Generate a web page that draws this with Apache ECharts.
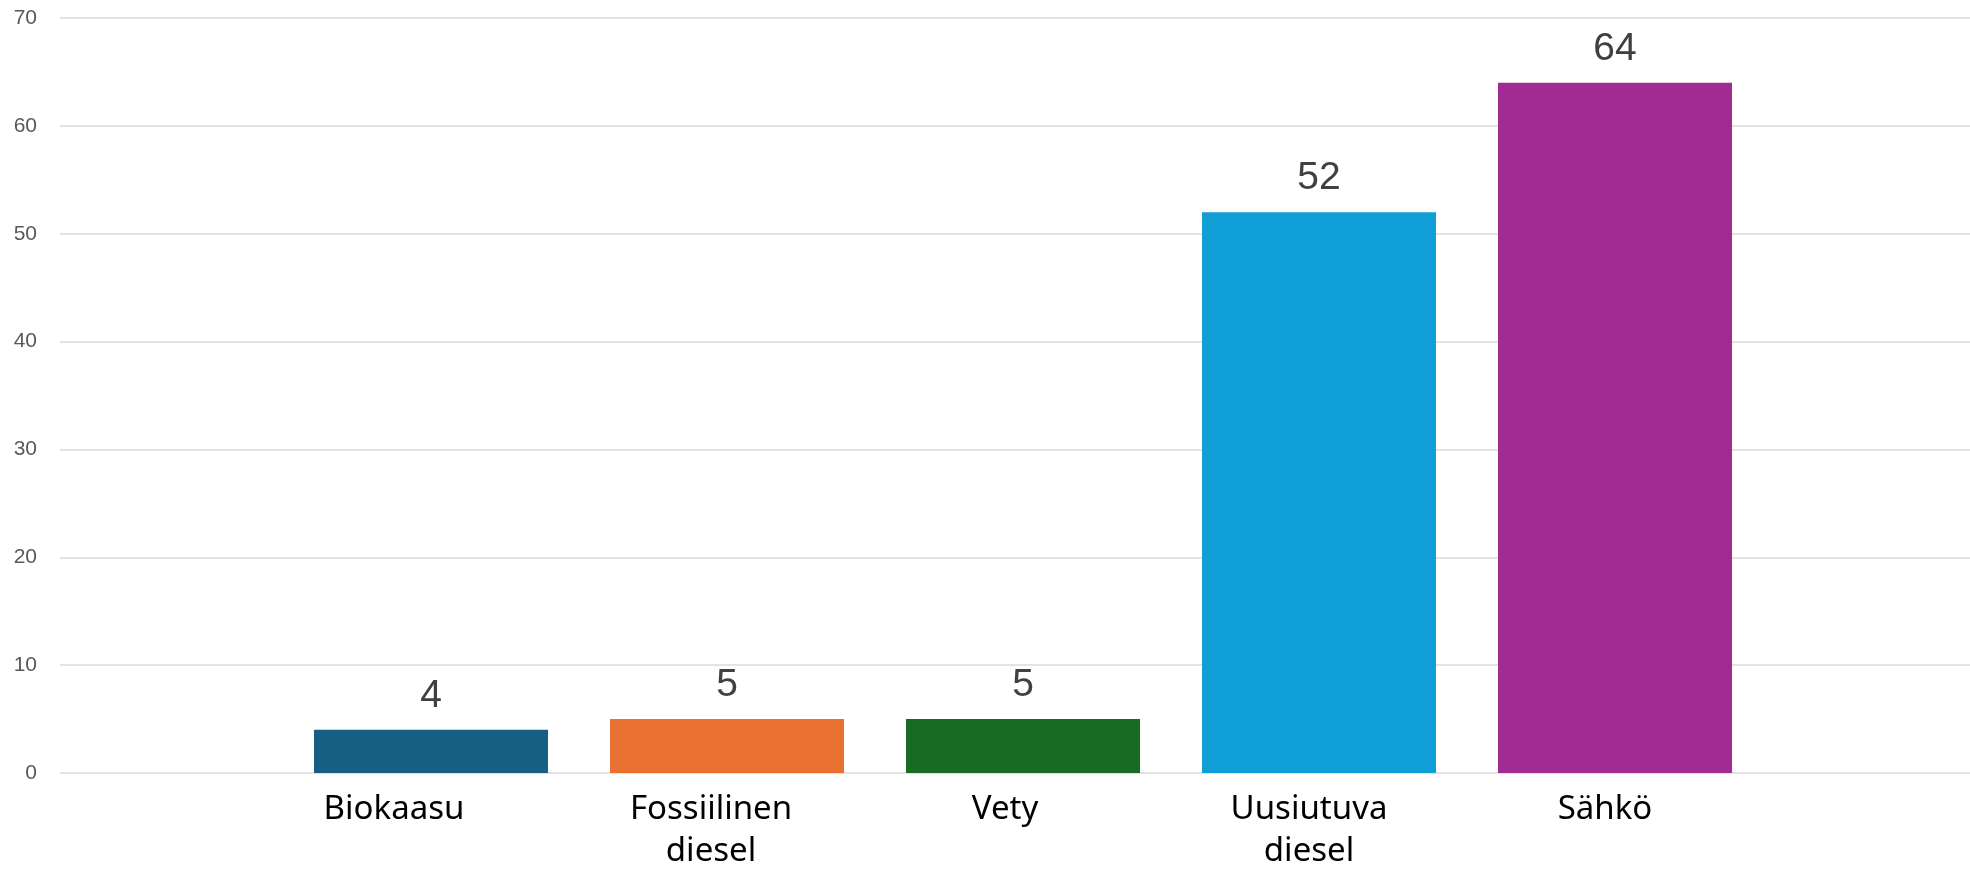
<!DOCTYPE html>
<html>
<head>
<meta charset="utf-8">
<script src="https://cdn.jsdelivr.net/npm/echarts@6/dist/echarts.min.js"></script>
<style>
html,body{margin:0;padding:0;background:#fff;}
#c{width:1970px;height:870px;}
</style>
</head>
<body>
<div id="c"></div>
<script>
const categories = ['Biokaasu', 'Fossiilinen\ndiesel', 'Vety', 'Uusiutuva\ndiesel', 'Sähkö'];
const values = [4, 5, 5, 52, 64];
const barColors = ['#156082', '#E97132', '#196B24', '#0F9ED5', '#A02B93'];
const yMin = 0, yMax = 70, yStep = 10;

(function () {
// horizontal shift (px, leftwards) of each category label relative to its bar centre
const labelShift = [37, 16, 18, 10, 10];
const chart = echarts.init(document.getElementById('c'), null, {renderer: 'canvas'});
const gTop = 18, gBottom = 97;
chart.setOption({
  animation: false,
  backgroundColor: '#ffffff',
  grid: [
    {left: 60, right: 0, top: gTop, bottom: gBottom, containLabel: false, outerBoundsMode: 'none'},
    {left: 283, width: 1480, top: gTop, bottom: gBottom, containLabel: false, outerBoundsMode: 'none'}
  ],
  xAxis: [
    {type: 'category', gridIndex: 0, data: [''], show: false},
    {type: 'category', gridIndex: 1,
     data: categories.map((c, i) => ({value: c, textStyle: {padding: [0, labelShift[i] * 2, 0, 0]}})),
     axisLine: {show: false}, axisTick: {show: false},
     axisLabel: {color: '#000000', fontFamily: 'Noto Sans', fontSize: 33, lineHeight: 42,
                 margin: 16, interval: 0}}
  ],
  yAxis: [
    {type: 'value', gridIndex: 0, min: yMin, max: yMax, interval: yStep,
     axisLine: {show: false}, axisTick: {show: false},
     axisLabel: {color: '#595959', fontFamily: 'Liberation Sans', fontSize: 21, margin: 23},
     splitLine: {lineStyle: {color: '#d9d9d9', width: 1.5}}},
    {type: 'value', gridIndex: 1, min: yMin, max: yMax, interval: yStep, show: false,
     splitLine: {show: false}}
  ],
  series: [{
    type: 'bar',
    xAxisIndex: 1, yAxisIndex: 1,
    barWidth: 234,
    data: values.map((v, i) => ({value: v, itemStyle: {color: barColors[i]}})),
    label: {show: true, position: 'top', distance: 14, color: '#404040',
            fontFamily: 'Liberation Sans', fontSize: 39}
  }]
});
})();
</script>
</body>
</html>
